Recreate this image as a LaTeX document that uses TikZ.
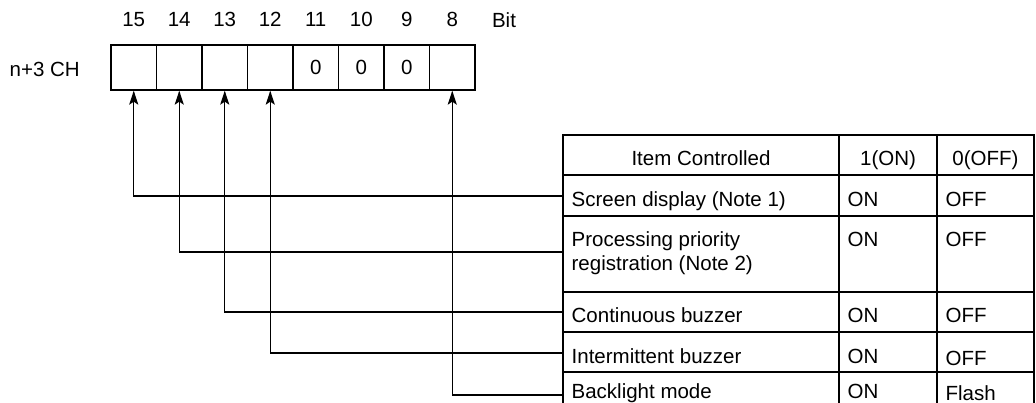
\documentclass[tikz,border=0pt]{standalone}
\usepackage{fontspec}
\setmainfont{Liberation Sans}
\usetikzlibrary{arrows.meta,positioning}
\newcommand{\regfont}{\fontsize{20.5}{24}\selectfont}

\begin{document}
\begin{tikzpicture}[x=1pt, y=-1pt, line width=1.3pt,
    bitcell/.style={rectangle, draw, minimum width=45.5pt, minimum height=45pt, inner sep=0pt, font=\regfont},
    bitnum/.style={inner sep=0pt, font=\regfont},
    cell/.style={anchor=base west, inner sep=0pt, align=left, font=\regfont},
    head/.style={anchor=base, inner sep=0pt, font=\regfont},
    arr/.style={-{Stealth[length=14pt, width=9pt, inset=3pt]}}
]
    \useasboundingbox (0,0) rectangle (1036,403);

    % Register
    \node[cell] (ch) at (9,77) {n+3 CH};
    \node[bitcell] (b15) at (133.75,67.5) {};
    \node[bitcell] (b14) at (179.25,67.5) {};
    \node[bitcell] (b13) at (224.75,67.5) {};
    \node[bitcell] (b12) at (270.25,67.5) {};
    \node[bitcell] (b11) at (315.75,67.5) {0};
    \node[bitcell] (b10) at (361.25,67.5) {0};
    \node[bitcell] (b9) at (406.75,67.5) {0};
    \node[bitcell] (b8) at (452.25,67.5) {};

    % Bit numbers
    \node[bitnum, above=17pt of b15] {15};
    \node[bitnum, above=17pt of b14] {14};
    \node[bitnum, above=17pt of b13] {13};
    \node[bitnum, above=17pt of b12] {12};
    \node[bitnum, above=17pt of b11] {11};
    \node[bitnum, above=17pt of b10] {10};
    \node[bitnum, above=17pt of b9] {9};
    \node[bitnum, above=17pt of b8] {8};
    \node[head] (bit) at (504,28) {Bit};

    % Table
    \draw (563,403) -- (563,135) -- (1034,135) -- (1034,403);
    \draw (839,135) -- (839,403);
    \draw (937,135) -- (937,403);
    \draw (563,175) -- (1034,175);
    \draw (563,216) -- (1034,216);
    \draw (563,292) -- (1034,292);
    \draw (563,332) -- (1034,332);
    \draw (563,372) -- (1034,372);

    \node[head] (hitem) at (701,166) {Item Controlled};
    \node[head] (hon) at (888,166) {1(ON)};
    \node[head] (hoff) at (985.5,166) {0(OFF)};

    \node[cell] (t1) at (571,207) {Screen display (Note 1)};
    \node[cell] at (847,207) {ON};
    \node[cell] at (945,207) {OFF};
    \node[cell] (t2) at (571,271) {Processing priority\\registration (Note 2)};
    \node[cell] at (847,247) {ON};
    \node[cell] at (945,247) {OFF};
    \node[cell] (t3) at (571,323) {Continuous buzzer};
    \node[cell] at (847,323) {ON};
    \node[cell] at (945,323) {OFF};
    \node[cell] (t4) at (571,363) {Intermittent buzzer};
    \node[cell] at (847,363) {ON};
    \node[cell] at (945,365) {OFF};
    \node[cell] (t5) at (571,398) {Backlight mode};
    \node[cell] at (847,398) {ON};
    \node[cell] at (945,400) {Flash};

    % Row ends
    \coordinate (item1) at (563,196);
    \coordinate (item2) at (563,252);
    \coordinate (item3) at (563,312);
    \coordinate (item4) at (563,353);
    \coordinate (item5) at (563,395);

    % Arrows
    \draw[arr] (item1) -| (b15.south);
    \draw[arr] (item2) -| (b14.south);
    \draw[arr] (item3) -| (b13.south);
    \draw[arr] (item4) -| (b12.south);
    \draw[arr] (item5) -| (b8.south);
\end{tikzpicture}
\end{document}
